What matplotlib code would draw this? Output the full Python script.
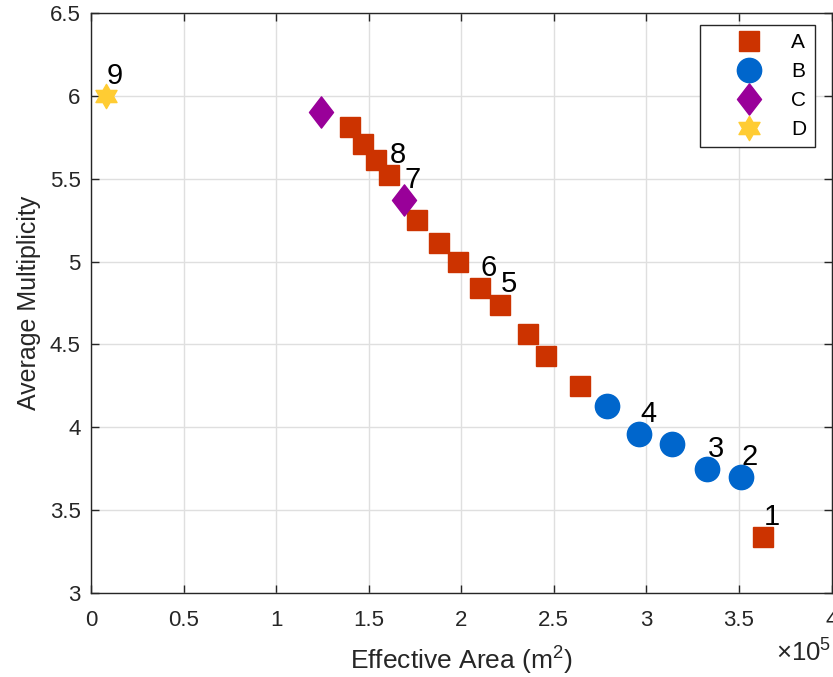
import matplotlib
matplotlib.use('Agg')
import matplotlib.pyplot as plt
import numpy as np
from matplotlib.path import Path
from matplotlib.ticker import ScalarFormatter, MultipleLocator

# data (x in m^2)
a_x = [1.40e5, 1.47e5, 1.54e5, 1.61e5, 1.76e5, 1.88e5, 1.98e5, 2.10e5, 2.21e5, 2.36e5, 2.46e5, 2.64e5, 3.63e5]
a_y = [5.81, 5.71, 5.61, 5.52, 5.25, 5.11, 5.00, 4.84, 4.74, 4.56, 4.43, 4.25, 3.34]
b_x = [2.79e5, 2.96e5, 3.14e5, 3.33e5, 3.51e5]
b_y = [4.13, 3.96, 3.90, 3.75, 3.70]
c_x = [1.24e5, 1.69e5]
c_y = [5.90, 5.37]
d_x = [0.08e5]
d_y = [6.00]

label_text = ['1', '2', '3', '4', '5', '6', '7', '8', '9']
label_x = [3.63e5, 3.51e5, 3.33e5, 2.96e5, 2.21e5, 2.10e5, 1.69e5, 1.61e5, 0.08e5]
label_y = [3.34, 3.70, 3.75, 3.96, 4.74, 4.84, 5.37, 5.52, 6.00]

plt.rcParams['font.family'] = ['Liberation Sans', 'DejaVu Sans']
plt.rcParams['mathtext.default'] = 'regular'


class PlainFormatter(ScalarFormatter):
    """Scalar formatter that drops trailing zeros (0, 0.5, 1 ...)."""
    def _set_format(self):
        self.format = '%g'


fig = plt.figure(figsize=(8.33, 6.77), dpi=100)
ax = fig.add_axes([0.1092, 0.124, 0.8890, 0.857])

dark = '#262626'
diamond = Path([(-0.77, 0), (0, 1), (0.77, 0), (0, -1), (-0.77, 0)],
               [Path.MOVETO, Path.LINETO, Path.LINETO, Path.LINETO, Path.CLOSEPOLY])
hexagram = Path.unit_regular_star(6, 0.5774)

ax.plot(a_x, a_y, ls='none', marker='s', ms=14, color='#CC3300', label='A')
ax.plot(b_x, b_y, ls='none', marker='o', ms=17.5, color='#0066CC', label='B')
ax.plot(c_x, c_y, ls='none', marker=diamond, ms=22.5, color='#990099', label='C')
ax.plot(d_x, d_y, ls='none', marker=hexagram, ms=17.5, color='#FFCC33', label='D')

for t, x, y in zip(label_text, label_x, label_y):
    ax.annotate(t, (x, y), xytext=(6.5, 14.5), textcoords='offset points',
                ha='center', va='center', fontsize=21, color='black')

ax.set_xlim(0, 4e5)
ax.set_ylim(3, 6.5)
ax.xaxis.set_major_locator(MultipleLocator(0.5e5))
ax.yaxis.set_major_locator(MultipleLocator(0.5))
fmt = PlainFormatter(useMathText=True)
fmt.set_powerlimits((0, 0))
ax.xaxis.set_major_formatter(fmt)
ax.yaxis.set_major_formatter(plt.FuncFormatter(lambda v, p: '%g' % v))

ax.grid(True, color='#dfdfdf', linewidth=1)
ax.set_axisbelow(True)
for s in ax.spines.values():
    s.set_color(dark)
    s.set_linewidth(1)
ax.tick_params(direction='in', length=6, width=1, color=dark, labelcolor=dark,
               labelsize=16, top=True, right=True)
ax.tick_params(axis='x', pad=12)
ax.tick_params(axis='y', pad=7.5)
ax.xaxis.OFFSETTEXTPAD = 6
ax.xaxis.get_offset_text().set_fontsize(18.5)
ax.xaxis.get_offset_text().set_color(dark)

ax.set_xlabel('Effective Area (m$^2$)', fontsize=19, color=dark, labelpad=10)
ax.set_ylabel('Average Multiplicity', fontsize=18, color=dark, labelpad=6)

leg = ax.legend(loc='upper right', bbox_to_anchor=(0.9775, 0.9795), fontsize=15,
                frameon=True, fancybox=False, framealpha=1, edgecolor=dark,
                handlelength=3.9, handletextpad=0.1, labelspacing=0.48,
                borderpad=0.4, borderaxespad=0)
leg.get_frame().set_linewidth(1)

fig.savefig('out.png', dpi=100)
